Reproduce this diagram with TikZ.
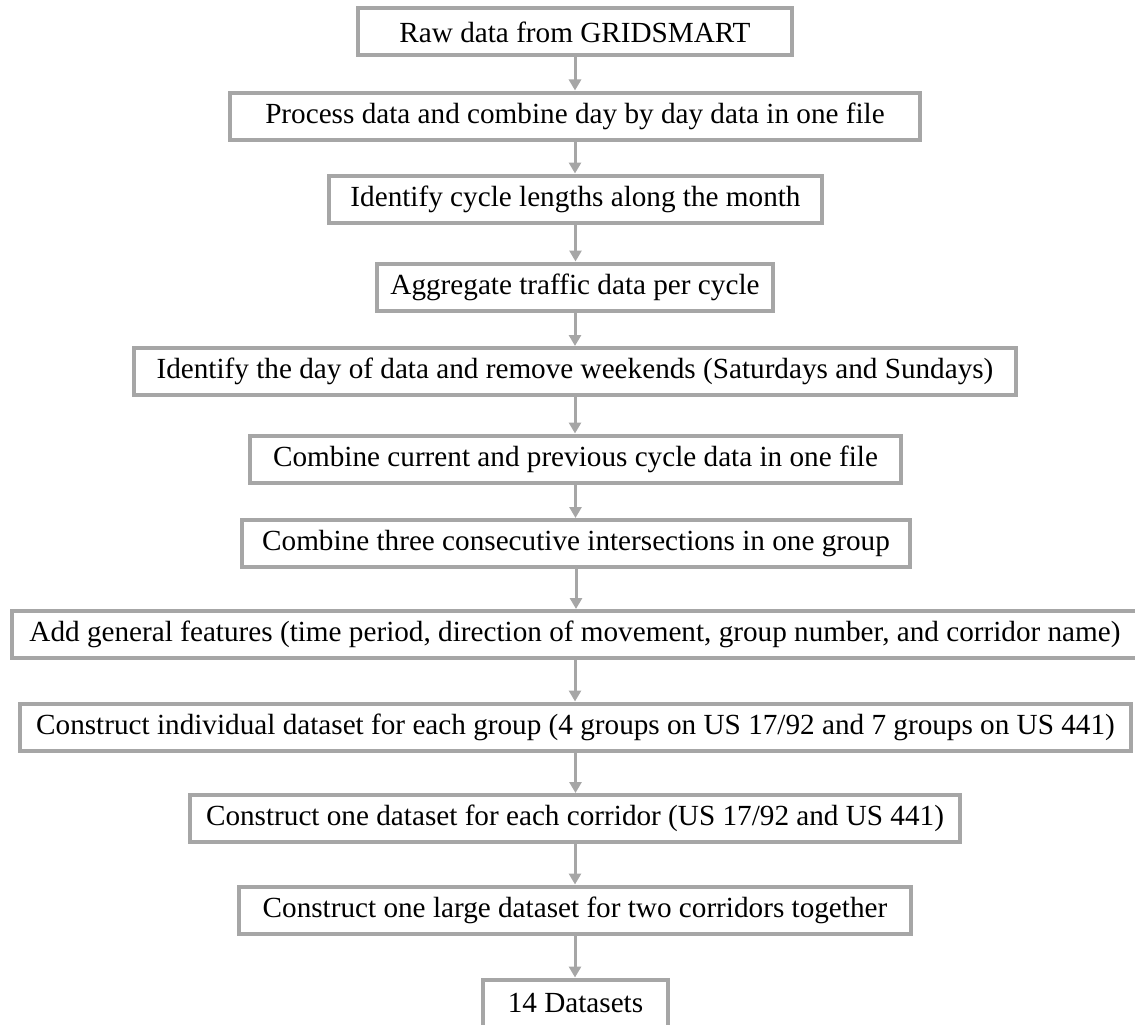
\documentclass[tikz,border=0pt]{standalone}
\usepackage{fontspec}
\setmainfont{Liberation Serif}
\usetikzlibrary{arrows.meta}
\definecolor{framegray}{HTML}{A6A6A6}
\begin{document}
\begin{tikzpicture}[x=1pt,y=-1pt,
  stepbox/.style={draw=framegray, line width=4pt, fill=white, rectangle,
    inner sep=0pt, minimum height=47pt, text=black,
    font=\fontsize{29.2}{34}\selectfont},
  flow/.style={draw=framegray, line width=3pt,
    -{Triangle[width=12pt,length=11pt]}}]
\useasboundingbox (0,0) rectangle (1135,1025);

% process steps, top to bottom
\node[stepbox, minimum width=434pt]  (s1)  at (575,32)    {Raw data from GRIDSMART};
\node[stepbox, minimum width=690pt]  (s2)  at (575,116)   {Process data and combine day by day data in one file};
\node[stepbox, minimum width=493pt]  (s3)  at (575.5,199) {Identify cycle lengths along the month};
\node[stepbox, minimum width=396pt]  (s4)  at (575,287)   {Aggregate traffic data per cycle};
\node[stepbox, minimum width=882pt]  (s5)  at (575,371.5) {Identify the day of data and remove weekends (Saturdays and Sundays)};
\node[stepbox, minimum width=651pt]  (s6)  at (575.5,459) {Combine current and previous cycle data in one file};
\node[stepbox, minimum width=668pt]  (s7)  at (576,543.5) {Combine three consecutive intersections in one group};
\node[stepbox, minimum width=1126pt] (s8)  at (575,634.5) {Add general features (time period, direction of movement, group number, and corridor name)};
\node[stepbox, minimum width=1111pt] (s9)  at (575.5,727) {Construct individual dataset for each group (4 groups on US 17/92 and 7 groups on US 441)};
\node[stepbox, minimum width=770pt]  (s10) at (575,818.5) {Construct one dataset for each corridor (US 17/92 and US 441)};
\node[stepbox, minimum width=672pt]  (s11) at (575,910)   {Construct one large dataset for two corridors together};
\node[stepbox, minimum width=185pt]  (s12) at (575.5,1003) {14 Datasets};

% connectors
\foreach \a/\b in {s1/s2,s2/s3,s3/s4,s4/s5,s5/s6,s6/s7,s7/s8,s8/s9,s9/s10,s10/s11,s11/s12}
  \draw[flow] (\a.south) -- (\a.south |- \b.north);
\end{tikzpicture}
\end{document}
